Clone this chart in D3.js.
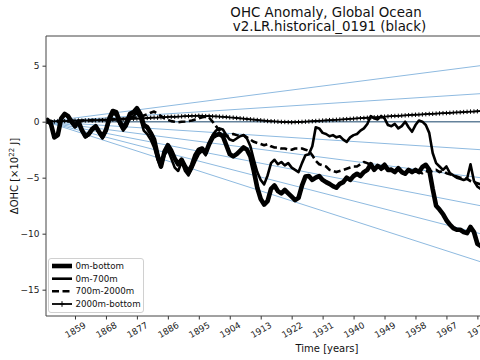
<!DOCTYPE html>
<html><head><meta charset="utf-8">
<script src="https://cdn.jsdelivr.net/npm/d3@7"></script>
<style>
html,body{margin:0;padding:0;background:#fff;overflow:hidden}
svg{display:block;font-family:"DejaVu Sans",sans-serif}
</style></head><body>
<svg id="chart" width="480" height="360"></svg>
<script>
// ---- data ----
const years = [1850.57,
 1851,1852,1853,1854,1855,1856,1857,1858,1859,1860,
 1861,1862,1863,1864,1865,1866,1867,1868,1869,1870,
 1871,1872,1873,1874,1875,1876,1877,1878,1879,1880,
 1881,1882,1883,1884,1885,1886,1887,1888,1889,1890,
 1891,1892,1893,1894,1895,1896,1897,1898,1899,1900,
 1901,1902,1903,1904,1905,1906,1907,1908,1909,1910,
 1911,1912,1913,1914,1915,1916,1917,1918,1919,1920,
 1921,1922,1923,1924,1925,1926,1927,1928,1929,1930,
 1931,1932,1933,1934,1935,1936,1937,1938,1939,1940,
 1941,1942,1943,1944,1945,1946,1947,1948,1949,1950,
 1951,1952,1953,1954,1955,1956,1957,1958,1959,1960,
 1961,1962,1963,1964,1965,1966,1967,1968,1969,1970,
 1971,1972,1973,1974,1975,1976,1977];

const ohc0mBottom = [0,
 0.15,-0.2,-1.4,-1.2,0.3,0.7,0.5,0,-0.4,0,
 -0.75,-1.3,-1.1,-0.65,-0.4,-0.9,-1.35,-0.75,0.3,0.95,
 0.85,0,-0.55,-0.1,0.7,0.85,1.2,0.7,-0.3,-0.5,
 -1.0,-1.6,-3.0,-4.0,-2.7,-2.1,-2.6,-3.3,-3.8,-3.4,
 -4.0,-4.5,-3.9,-3.0,-2.5,-2.4,-2.8,-2.0,-1.4,-1.2,
 -1.1,-1.3,-2.1,-2.9,-3.1,-2.9,-2.6,-2.3,-2.5,-3.1,
 -4.4,-5.9,-6.9,-7.4,-7.1,-6.0,-5.7,-6.2,-6.4,-6.1,
 -6.4,-6.7,-7.0,-6.8,-5.7,-4.9,-4.85,-5.2,-5.0,-4.85,
 -5.2,-5.4,-5.55,-5.75,-5.9,-5.55,-5.4,-5.0,-5.2,-4.85,
 -4.65,-4.85,-4.5,-4.3,-3.8,-4.3,-3.95,-4.15,-3.85,-4.3,
 -4.3,-4.5,-4.15,-4.5,-4.65,-4.3,-4.5,-4.3,-4.5,-4.05,
 -3.85,-4.3,-6.0,-7.5,-7.85,-8.25,-8.8,-9.2,-9.5,-9.65,
 -9.65,-9.85,-9.95,-9.4,-9.85,-10.9,-11.1];

const ohc0m700m = [0,
 0.1,-0.25,-1.45,-1.25,0.2,0.6,0.4,-0.1,-0.5,-0.1,
 -0.85,-1.4,-1.2,-0.8,-0.55,-1.05,-1.5,-0.9,0.1,0.7,
 0.6,-0.25,-0.8,-0.4,0.35,0.5,0.8,0.3,-0.8,-1.1,
 -1.6,-2.3,-3.4,-4.1,-3.0,-2.5,-3.3,-4.1,-4.4,-3.6,
 -4.4,-4.8,-4.2,-3.5,-2.9,-2.6,-3.0,-2.0,-1.2,-0.8,
 -0.6,-0.7,-1.2,-1.6,-1.7,-1.5,-1.3,-1.2,-1.5,-2.2,
 -3.4,-4.5,-5.2,-5.6,-4.8,-3.7,-3.4,-3.8,-3.6,-3.9,
 -3.7,-4.1,-4.3,-4.5,-3.7,-3.0,-2.9,-2.2,-0.5,-0.6,
 -1.0,-1.1,-1.3,-1.2,-1.4,-1.3,-1.6,-1.8,-1.4,-1.2,
 -1.1,-0.8,-0.6,-0.2,0.5,0.3,0.2,0.5,0.3,-0.3,
 -0.4,-0.2,-0.6,-0.4,0.0,-0.5,-0.9,-0.3,0.1,0.0,
 -0.3,-1.0,-2.8,-3.7,-4.0,-4.3,-4.0,-4.6,-4.8,-5.0,
 -5.1,-5.2,-5.1,-3.8,-5.3,-5.8,-6.0];

const ohc700m2000m = [0,
 0.0,0.02,0.05,0.03,0.06,0.08,0.05,0.07,0.1,0.08,
 0.1,0.12,0.1,0.14,0.15,0.13,0.17,0.15,0.2,0.22,
 0.2,0.25,0.24,0.28,0.3,0.33,0.4,0.45,0.55,0.65,
 0.8,0.9,0.7,0.5,0.3,0.15,0.05,0.0,-0.05,0.0,
 0.02,0.05,0.1,0.2,0.3,0.4,0.45,0.35,0.0,-0.4,
 -0.8,-1.1,-1.3,-1.2,-1.1,-1.2,-1.3,-1.2,-1.4,-1.6,
 -1.8,-1.9,-2.0,-2.1,-2.0,-2.2,-2.3,-2.3,-2.4,-2.4,
 -2.5,-2.5,-2.4,-2.4,-2.4,-2.5,-2.6,-3.0,-3.5,-3.8,
 -3.9,-4.0,-4.3,-4.4,-4.5,-4.4,-4.3,-4.2,-4.1,-4.0,
 -4.0,-3.8,-3.6,-3.7,-3.9,-4.2,-4.0,-4.3,-4.1,-4.3,
 -4.2,-4.5,-4.3,-4.5,-4.4,-4.3,-4.5,-4.4,-4.5,-4.6,
 -4.4,-4.5,-4.4,-4.3,-4.5,-4.4,-4.6,-4.7,-4.8,-4.9,
 -5.0,-5.0,-5.1,-5.3,-5.4,-5.5,-5.6];

const ohc2000mBottom = [0,
 0.02,0.03,0.02,0.05,0.06,0.05,0.08,0.07,0.09,0.10,
 0.09,0.11,0.12,0.10,0.13,0.14,0.13,0.16,0.17,0.19,
 0.18,0.21,0.22,0.21,0.25,0.26,0.28,0.27,0.30,0.33,
 0.35,0.37,0.36,0.39,0.41,0.42,0.44,0.43,0.46,0.47,
 0.49,0.50,0.52,0.51,0.53,0.52,0.50,0.51,0.48,0.47,
 0.45,0.43,0.41,0.38,0.36,0.33,0.30,0.27,0.24,0.21,
 0.18,0.15,0.12,0.09,0.06,0.04,0.02,0.00,-0.02,-0.03,
 -0.04,-0.05,-0.04,-0.03,-0.02,0.00,0.02,0.04,0.06,0.08,
 0.10,0.12,0.14,0.15,0.17,0.19,0.21,0.23,0.25,0.27,
 0.29,0.31,0.33,0.35,0.37,0.39,0.41,0.43,0.45,0.47,
 0.49,0.51,0.52,0.54,0.56,0.58,0.60,0.62,0.63,0.65,
 0.67,0.69,0.70,0.72,0.74,0.76,0.77,0.79,0.81,0.83,
 0.84,0.86,0.88,0.90,0.91,0.93,0.95];

const seriesNames = ["0m-bottom", "0m-700m", "700m-2000m", "2000m-bottom"];
// reference trend lines (10^22 J per year)
const trendRates = [0.0396, 0.0198, 0, -0.0198, -0.0396, -0.0594, -0.0792, -0.0990];
const xTickYears = [1859,1868,1877,1886,1895,1904,1913,1922,1931,1940,1949,1958,1967,1976];
const yTickValues = [5, 0, -5, -10, -15];
const xDomain = [1850.57, 2014.5];
const yDomain = [-17.35, 7.65];

// ---- drawing ----
const svg = d3.select('#chart');
const L = 46, T = 36, B = 316, R = 609.8;
const x = d3.scaleLinear().domain(xDomain).range([L, R]);
const y = d3.scaleLinear().domain(yDomain).range([B, T]);

svg.append('defs').append('clipPath').attr('id','clip')
  .append('rect').attr('x', L).attr('y', T).attr('width', R - L).attr('height', B - T);

const plot = svg.append('g').attr('clip-path','url(#clip)');

// trend lines
trendRates.forEach(r => {
  plot.append('line')
    .attr('x1', x(xDomain[0])).attr('y1', y(0))
    .attr('x2', x(xDomain[1])).attr('y2', y(r * (xDomain[1] - xDomain[0])))
    .attr('stroke', r === 0 ? '#64829b' : '#8ebae0')
    .attr('stroke-width', r === 0 ? 1.5 : 1);
});

const line = d3.line().x((d,i) => x(years[i])).y(d => y(d));

const styles = [
  {data: ohc0mBottom, w: 4.6, dash: null},
  {data: ohc0m700m, w: 2.6, dash: null},
  {data: ohc700m2000m, w: 2.6, dash: '7,3.5'},
  {data: ohc2000mBottom, w: 1.8, dash: null}
];
styles.forEach(s => {
  plot.append('path').datum(s.data).attr('d', line)
    .attr('fill','none').attr('stroke','#000').attr('stroke-width', s.w)
    .attr('stroke-linejoin','round').attr('stroke-linecap', s.dash ? 'butt' : 'round')
    .attr('stroke-dasharray', s.dash);
});
// '+' markers for 2000m-bottom
const mk = 2.2;
plot.append('g').selectAll('path').data(ohc2000mBottom).join('path')
  .attr('d', (d,i) => {
    const px = x(years[i]), py = y(d);
    return `M${px-mk},${py}H${px+mk}M${px},${py-mk}V${py+mk}`;
  })
  .attr('stroke','#000').attr('stroke-width',1).attr('fill','none');

// axes
const xAxis = d3.axisBottom(x).tickValues(xTickYears).tickSize(3.5).tickFormat(d3.format('d'));
const gx = svg.append('g').attr('transform', `translate(0,${B})`).call(xAxis);
gx.select('.domain').remove();
gx.selectAll('.tick line').attr('stroke','#333');
gx.selectAll('.tick text')
  .attr('y', 0).attr('dy', null)
  .attr('font-family','DejaVu Sans').attr('font-size', 8.8).attr('fill','#222')
  .attr('text-anchor','middle').attr('dominant-baseline','central')
  .attr('transform','translate(0,14) rotate(-30)');

const yAxis = d3.axisLeft(y).tickValues(yTickValues).tickSize(3.5).tickPadding(3)
  .tickFormat(d => d < 0 ? '\u2212' + Math.abs(d) : String(d));
const gy = svg.append('g').attr('transform', `translate(${L},0)`).call(yAxis);
gy.select('.domain').remove();
gy.selectAll('.tick line').attr('stroke','#333');
gy.selectAll('.tick text').attr('font-family','DejaVu Sans').attr('font-size', 9).attr('fill','#222');

// spines
const sp = svg.append('g').attr('stroke','#444').attr('stroke-width',1).attr('fill','none');
sp.append('line').attr('x1', L).attr('x2', L).attr('y1', T).attr('y2', B);
sp.append('line').attr('x1', L).attr('x2', R).attr('y1', T).attr('y2', T);
sp.append('line').attr('x1', L).attr('x2', R).attr('y1', B).attr('y2', B);
sp.append('line').attr('x1', R).attr('x2', R).attr('y1', T).attr('y2', B);

// labels
svg.append('text').attr('x', 327).attr('y', 352).attr('text-anchor','middle')
  .attr('font-size', 10).attr('fill','#111').text('Time [years]');

const yl = svg.append('text').attr('transform','translate(18,176) rotate(-90)')
  .attr('text-anchor','middle').attr('font-size', 10).attr('fill','#111');
yl.append('tspan').text('\u0394OHC [\u00d710');
yl.append('tspan').attr('font-size', 7).attr('dy', -4).text('22');
yl.append('tspan').attr('dy', 4).text(' J]');

svg.append('text').attr('x', 326).attr('y', 17).attr('text-anchor','middle')
  .attr('font-size', 13.4).attr('fill','#111').text('OHC Anomaly, Global Ocean');
svg.append('text').attr('x', 329.5).attr('y', 31).attr('text-anchor','middle')
  .attr('font-size', 13.4).attr('fill','#111').text('v2.LR.historical_0191 (black)');

// legend
const lg = svg.append('g');
lg.append('rect').attr('x', 48.5).attr('y', 258.5).attr('width', 95).attr('height', 54)
  .attr('rx', 2.5).attr('fill','#fff').attr('fill-opacity', 0.8).attr('stroke','#d0d0d0');
const rowY = [266, 278.7, 291.3, 304];
styles.forEach((s, i) => {
  const yy = rowY[i];
  lg.append('line').attr('x1', 52).attr('x2', 72).attr('y1', yy).attr('y2', yy)
    .attr('stroke','#000').attr('stroke-width', s.w).attr('stroke-dasharray', s.dash);
  if (i === 3) {
    lg.append('path').attr('d', `M${62-mk},${yy}H${62+mk}M62,${yy-mk-0.6}V${yy+mk+0.6}`)
      .attr('stroke','#000').attr('stroke-width',1);
  }
  lg.append('text').attr('x', 75.5).attr('y', yy).attr('dominant-baseline','central')
    .attr('font-size', 8.7).attr('fill','#111').text(seriesNames[i]);
});
</script>
</body></html>
